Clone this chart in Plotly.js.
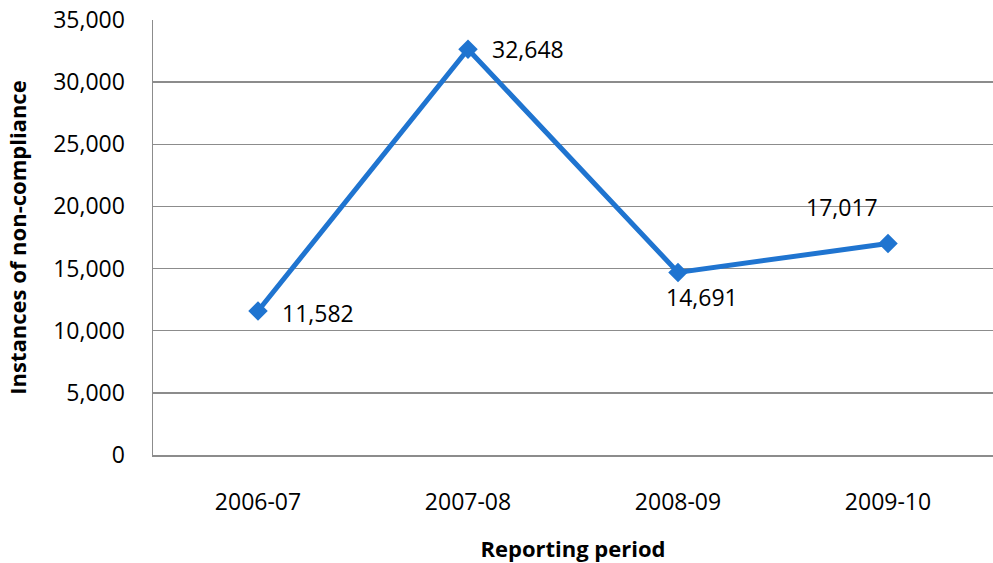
<!DOCTYPE html>
<html>
<head>
<meta charset="utf-8">
<script src="https://cdn.plot.ly/plotly-3.0.1.min.js"></script>
<style>
  html, body { margin: 0; padding: 0; background: #fff; }
  #chart { width: 993px; height: 563px; }
</style>
</head>
<body>
<div id="chart"></div>
<script>
// Reporting periods and recorded instances of non-compliance
const periods = ['2006-07', '2007-08', '2008-09', '2009-10'];
const instances = [11582, 32648, 14691, 17017];

// Label placement per point (offsets in pixels relative to the marker)
const labelAnchors = [
  { xanchor: 'left', yanchor: 'middle', xshift: 22, yshift: -2 },
  { xanchor: 'left', yanchor: 'middle', xshift: 22, yshift: 0 },
  { xanchor: 'left', yanchor: 'middle', xshift: -14, yshift: -25 },
  { xanchor: 'right', yanchor: 'middle', xshift: -8, yshift: 37 }
];

const fontFamily = '"Open Sans", "Liberation Sans", sans-serif';
const numberSize = 23;
const titleSize = 22;
const blue = '#1F74D0';

const trace = {
  x: periods,
  y: instances,
  type: 'scatter',
  mode: 'lines+markers',
  line: { color: blue, width: 5 },
  marker: { symbol: 'diamond', size: 15, color: blue },
  hoverinfo: 'skip'
};

const annotations = periods.map((p, i) => Object.assign({
  x: p,
  y: instances[i],
  xref: 'x',
  yref: 'y',
  text: instances[i].toLocaleString('en-US'),
  showarrow: false,
  font: { family: fontFamily, size: numberSize, color: '#000' }
}, labelAnchors[i]));

const layout = {
  width: 993,
  height: 563,
  margin: { l: 153, r: 0, t: 20, b: 108 },
  paper_bgcolor: '#fff',
  plot_bgcolor: '#fff',
  showlegend: false,
  font: { family: fontFamily, size: numberSize, color: '#000' },
  xaxis: {
    type: 'category',
    range: [-0.5, 3.5],
    showgrid: false,
    showline: true,
    linecolor: '#8c8c8c',
    linewidth: 1.5,
    ticks: '',
    ticklabelstandoff: 26,
    tickfont: { family: fontFamily, size: numberSize, color: '#000' },
    title: {
      text: '<b>Reporting period</b>',
      font: { family: fontFamily, size: titleSize, color: '#000' },
      standoff: 25
    },
    zeroline: false
  },
  yaxis: {
    range: [0, 35000],
    dtick: 5000,
    tickformat: ',d',
    showgrid: true,
    gridcolor: '#8c8c8c',
    gridwidth: 1.5,
    showline: true,
    linecolor: '#8c8c8c',
    linewidth: 1.5,
    zeroline: false,
    ticks: '',
    ticklabelstandoff: 22,
    tickfont: { family: fontFamily, size: numberSize, color: '#000' },
    title: {
      text: '<b>Instances of non-compliance</b>',
      font: { family: fontFamily, size: titleSize, color: '#000' },
      standoff: 20
    }
  },
  annotations: annotations
};

Plotly.newPlot('chart', [trace], layout, { staticPlot: true, displayModeBar: false });
</script>
</body>
</html>
